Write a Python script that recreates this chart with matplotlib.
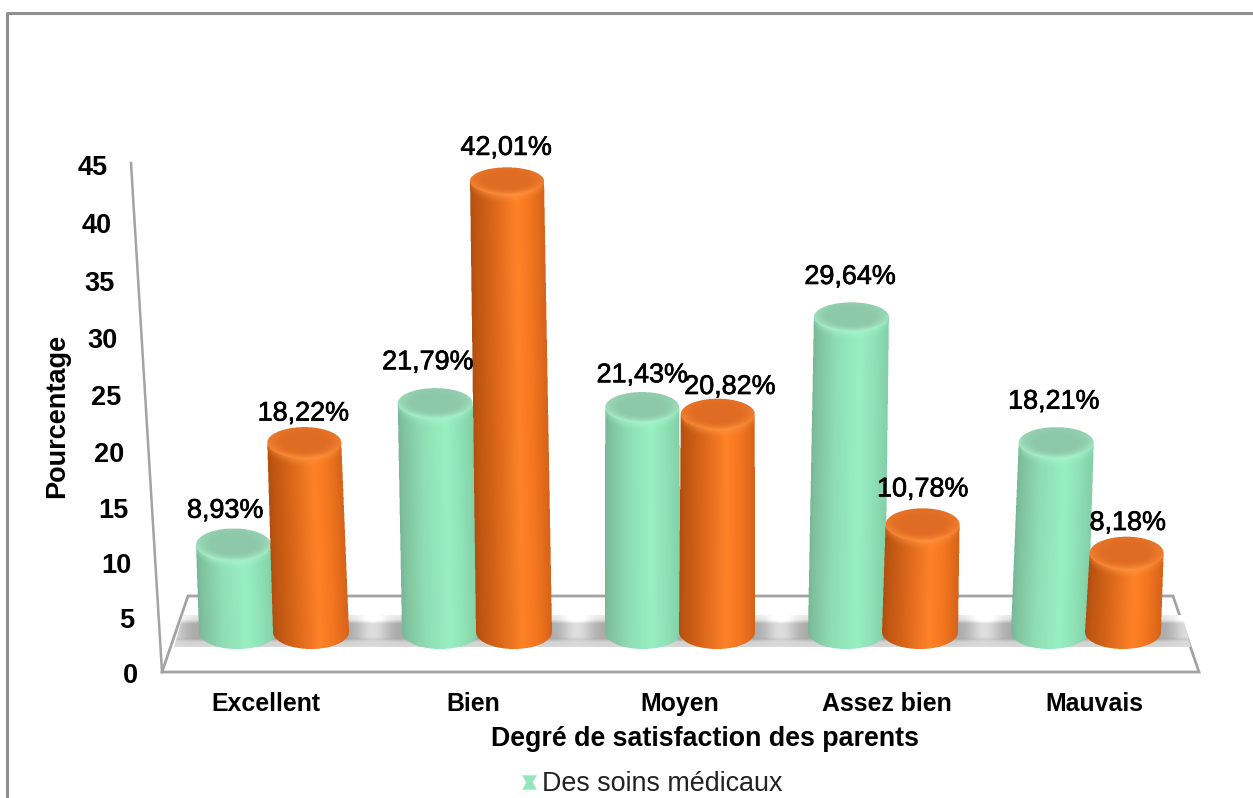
import numpy as np
import matplotlib
matplotlib.use("Agg")
import matplotlib.pyplot as plt
import matplotlib.patheffects as pe
from matplotlib.lines import Line2D
from matplotlib.patches import Polygon

categories = ["Excellent", "Bien", "Moyen", "Assez bien", "Mauvais"]
soins = [8.93, 21.79, 21.43, 29.64, 18.21]
autre = [18.22, 42.01, 20.82, 10.78, 8.18]
soins_labels = ["8,93%", "21,79%", "21,43%", "29,64%", "18,21%"]
autre_labels = ["18,22%", "42,01%", "20,82%", "10,78%", "8,18%"]
y_ticks = [0, 5, 10, 15, 20, 25, 30, 35, 40, 45]
legend_label = "Des soins médicaux"
x_title = "Degré de satisfaction des parents"
y_title = "Pourcentage"

# label nudges in pixels: (dx, dy above the cap centre)
soins_nudge = [(-8, 34), (-7, 41), (0, 32), (-1, 40), (-2, 41)]
autre_nudge = [(-1, 29), (-1, 33), (12, 27), (0, 35), (1, 30)]

W, H = 1253, 798
plt.rcParams["font.family"] = ["Liberation Sans", "DejaVu Sans"]
fig = plt.figure(figsize=(W / 100, H / 100), dpi=100, facecolor="white")


def rect(l, t, r, b):
    return [l / W, 1 - b / H, (r - l) / W, (b - t) / H]


# background layer in pixel units, for the chart frame and the floor
bg = fig.add_axes([0, 0, 1, 1], zorder=0)
bg.set_xlim(0, W)
bg.set_ylim(H, 0)
bg.axis("off")
GRAY = "#a3a3a3"
bg.plot([7, 7, W + 5], [H + 5, 13, 13], color="#8f8f8f", lw=2.2)
bg.plot([131, 162], [163, 672], color=GRAY, lw=1.8)
floor = [(188, 596), (1173, 596), (1199, 672), (162, 672)]
bg.add_patch(Polygon(floor, closed=True, fc="white", ec=GRAY, lw=2, joinstyle="miter"))

# soft shadow band on the floor
yy = np.linspace(0, 1, 40)[:, None]
xx = np.linspace(172, 1192, 1020)[None, :]
ridge = np.interp(yy, [0, .14, .26, .76, .84, 1], [.91, .86, .66, .66, .82, .84])
gap = ((xx - 373 + 102) % 204) - 102
glow = np.exp(-(gap / 16) ** 2)
band = ridge + np.clip(np.interp(yy, [0, .2, .7, .85], [.5, 1, 1, .1]), 0, 1) * 0.21 * glow
im = bg.imshow(np.clip(band, 0, 1), cmap="gray", vmin=0, vmax=1, aspect="auto",
               extent=(172, 1192, 647, 615), zorder=3, interpolation="bilinear")
im.set_clip_path(Polygon([(183, 615), (1182, 615), (1191, 647), (174, 647)],
                         closed=True, transform=bg.transData))
bg.set_xlim(0, W)
bg.set_ylim(H, 0)


# front plane: carries the tick labels and titles
def fwd(v):
    v = np.asarray(v, dtype=float)
    return 0.96 * v + 0.000778 * v ** 2


def inv(s):
    s = np.asarray(s, dtype=float)
    return (-0.96 + np.sqrt(np.maximum(0.96 ** 2 + 4 * 0.000778 * s, 0))) / (2 * 0.000778)


front = fig.add_axes(rect(162, 165, 1198, 673), zorder=1)
front.patch.set_alpha(0)
for sp in front.spines.values():
    sp.set_visible(False)
front.set_yscale("function", functions=(fwd, inv))
front.set_xlim(-0.5, 4.5)
front.set_ylim(0, 45)
front.set_xticks(range(len(categories)), categories, fontsize=17.9, fontweight="bold")
front.set_yticks(y_ticks, [str(t) for t in y_ticks], fontsize=19.5, fontweight="bold")
front.yaxis.set_minor_locator(matplotlib.ticker.NullLocator())
front.tick_params(axis="both", length=0)
front.tick_params(axis="x", pad=13.7)
for tick, v in zip(front.yaxis.get_major_ticks(), y_ticks):
    tick.set_pad((24 + 30 * v / 45) * 0.72)
front.set_xlabel(x_title, fontsize=19.3, fontweight="bold", va="center")
front.xaxis.set_label_coords((705 - 162) / 1036, -(739 - 673) / 508)
front.set_ylabel(y_title, fontsize=19.5, fontweight="bold", va="center")
front.yaxis.set_label_coords((57 - 162) / 1036, (673 - 416) / 508)

# bar plane: its value scale sits behind the front plane
ax = fig.add_axes(rect(162, 643 - 45 * 11.0, 1198, 643), zorder=2)
ax.patch.set_alpha(0)
ax.axis("off")
XLIM = ((162 - 680) / 203 + 2, (1198 - 680) / 203 + 2)
ax.set_xlim(*XLIM)
ax.set_ylim(0, 45)

FOOT = 1.0      # base centre of the cylinders, in value units
LEAN = 0.001    # perspective lean
OFFSET = 0.1823  # half distance between the paired bars

GREEN = dict(stops=[0, .06, .30, .62, .80, 1],
             body=["#78b795", "#7fc19e", "#8edcb3", "#98f0c2", "#8fe3b7", "#84cfa8"],
             cap="#8dc8a9", rim="#a9f0ca", high="#a6f5cd")
ORANGE = dict(stops=[0, .06, .30, .62, .80, 1],
              body=["#b14e0f", "#bd5511", "#d9661a", "#ff8228", "#f4761f", "#d5631a"],
              cap="#e06c22", rim="#fb8a38", high="#ff9642")


def rgb(c):
    return np.array(matplotlib.colors.to_rgb(c))


def draw_cylinder(xc, value, style, z):
    x_top = xc + (xc - 2) * LEAN * value
    bx, by = ax.transData.transform((xc, FOOT))
    tx, ty = ax.transData.transform((x_top, value))
    ab, at = 38.0, 37.0
    bb = 17.0
    # caps flatten as they rise towards the eye line
    bt = 13.5 + (H - ty - 179) * 0.0075
    x0 = int(min(bx - ab, tx - at)) - 2
    x1 = int(max(bx + ab, tx + at)) + 3
    y0 = int(by - bb) - 2
    y1 = int(ty + bt) + 3
    ss = 3
    X, Y = np.meshgrid((np.arange((x1 - x0) * ss) + .5) / ss + x0,
                       (np.arange((y1 - y0) * ss) + .5) / ss + y0)
    t = np.clip((Y - by) / (ty - by), 0, 1)
    cx = bx + (tx - bx) * t
    a = ab + (at - ab) * t
    u = (X - cx) / a
    body = (np.abs(u) <= 1) & (Y >= by) & (Y <= ty)
    base = ((X - bx) / ab) ** 2 + ((Y - by) / bb) ** 2 <= 1
    rho2 = ((X - tx) / at) ** 2 + ((Y - ty) / bt) ** 2
    cap = rho2 <= 1
    mask = body | base | cap
    u01 = np.clip((u + 1) / 2, 0, 1)
    cols = np.array([rgb(c) for c in style["body"]])
    img = np.dstack([np.interp(u01, style["stops"], cols[:, i]) for i in range(3)])
    # bright bevel just below the front rim of the cap
    rim_y = ty - bt * np.sqrt(np.clip(1 - ((X - tx) / at) ** 2, 0, 1))
    bev = np.clip(1 - (rim_y - Y) / 9.0, 0, 1)[..., None] ** 1.5
    centre = np.clip(1 - np.abs(X - tx) / at, 0, 1)[..., None]
    img = img + (rgb(style["high"]) - img) * bev * (0.35 + 0.5 * centre)
    # the cap itself
    rho = np.sqrt(rho2)
    k = np.clip((rho - 0.55) / 0.45, 0, 1)[..., None] ** 1.5
    front_side = np.clip((ty - Y) / bt * 0.5 + 0.6, 0, 1)[..., None]
    capc = rgb(style["cap"]) + (rgb(style["rim"]) - rgb(style["cap"])) * k * front_side
    img = np.where(cap[..., None], capc, img)
    rgba = np.dstack([img * mask[..., None], mask.astype(float)])
    h, w = rgba.shape[0] // ss, rgba.shape[1] // ss
    rgba = rgba.reshape(h, ss, w, ss, 4).mean(axis=(1, 3))
    alpha = rgba[..., 3:]
    rgba[..., :3] = np.where(alpha > 0, rgba[..., :3] / np.maximum(alpha, 1e-6), 1)
    inv_t = ax.transData.inverted()
    (dx0, dy0), (dx1, dy1) = inv_t.transform([(x0, y0), (x1, y1)])
    ax.imshow(rgba, origin="lower", extent=(dx0, dx1, dy0, dy1), aspect="auto",
              interpolation="nearest", zorder=z, clip_on=False)
    return x_top


for i in range(len(categories)):
    for values, texts, nudges, style, sign in (
            (soins, soins_labels, soins_nudge, GREEN, -1),
            (autre, autre_labels, autre_nudge, ORANGE, 1)):
        xc = i + sign * OFFSET
        x_top = draw_cylinder(xc, values[i], style, 3 + i + (sign + 1) * 0.1)
        ax.annotate(texts[i], (x_top, values[i]), xytext=nudges[i], textcoords="offset pixels",
                    ha="center", va="center", fontsize=19.4, color="black", zorder=20,
                    path_effects=[pe.withStroke(linewidth=0.5, foreground="black")])
ax.set_xlim(*XLIM)
ax.set_ylim(0, 45)

hourglass = [(-1, 1), (1, 1), (0.45, 0), (1, -1), (-1, -1), (-0.45, 0), (-1, 1)]
handle = Line2D([], [], ls="", marker=hourglass, ms=10.5, mfc="#93e6bb", mec="#c5efd8", mew=0.5)
fig.legend([handle], [legend_label], loc="center", bbox_to_anchor=(653 / W, 1 - 784 / H),
           frameon=False, fontsize=19.4, handlelength=0.45, handletextpad=0.26,
           borderpad=0, labelcolor="#222222")

fig.savefig("out.png", dpi=100, facecolor="white")
